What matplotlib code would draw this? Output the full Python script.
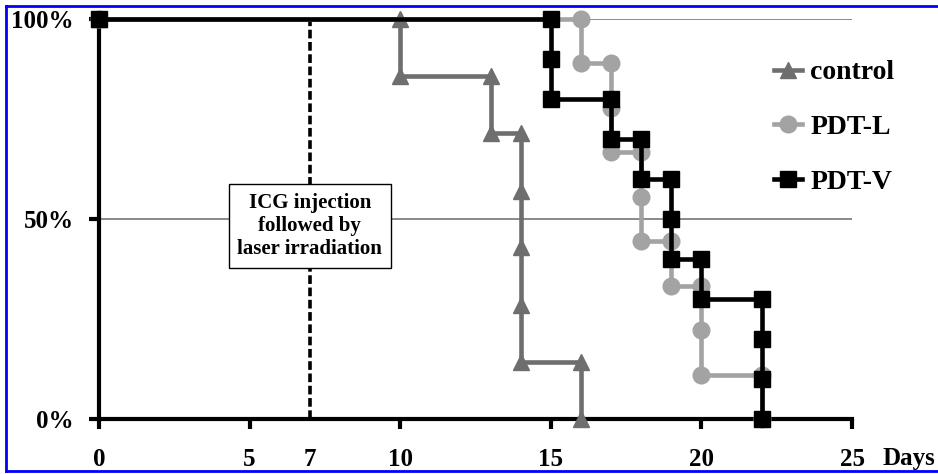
# Kaplan-Meier style survival curves: control vs PDT-L vs PDT-V
import matplotlib.pyplot as plt
from matplotlib.lines import Line2D

# step points (day, survival %)
control_days = [0, 10, 10, 13, 13, 14, 14, 14, 14, 14, 16, 16]
control_surv = [100, 100, 85.7, 85.7, 71.4, 71.4, 57.1, 42.9, 28.6, 14.3, 14.3, 0]

pdtl_days = [0, 16, 16, 17, 17, 17, 18, 18, 18, 19, 19, 20, 20, 20, 22, 22]
pdtl_surv = [100, 100, 88.9, 88.9, 77.8, 66.7, 66.7, 55.6, 44.4, 44.4, 33.3,
             33.3, 22.2, 11.1, 11.1, 0]

pdtv_days = [0, 15, 15, 15, 17, 17, 18, 18, 19, 19, 19, 20, 20, 22, 22, 22, 22]
pdtv_surv = [100, 100, 90, 80, 80, 70, 70, 60, 60, 50, 40, 40, 30, 30, 20, 10, 0]

x_ticks = [0, 5, 7, 10, 15, 20, 25]
y_ticks = [0, 50, 100]
y_labels = ["0%", "50%", "100%"]
injection_day = 7

plt.rcParams['font.family'] = ['Liberation Serif', 'DejaVu Serif']
plt.rcParams['font.weight'] = 'bold'

fig = plt.figure(figsize=(9.38, 4.74), dpi=100)
ax = fig.add_axes([99/938, 1 - 419/474, (852 - 99)/938, 400/474])
ax.set_xlim(0, 25)
ax.set_ylim(0, 100)

# thin reference lines
for yv in [50, 100]:
    ax.axhline(yv, color='#808080', lw=1.3, zorder=1)

# laser irradiation day
ax.plot([injection_day, injection_day], [0, 100], color='black', lw=2.6,
        linestyle=(0, (2.4, 1.0)), zorder=2)

ax.plot(control_days, control_surv, color='#6e6e6e', lw=3.3, marker='^',
        markersize=12, label='control', clip_on=False, zorder=3)
ax.plot(pdtl_days, pdtl_surv, color='#a3a3a3', lw=3.3, marker='o',
        markersize=12, label='PDT-L', clip_on=False, zorder=4)
ax.plot(pdtv_days, pdtv_surv, color='black', lw=3.3, marker='s',
        markersize=12, label='PDT-V', clip_on=False, zorder=5)

ax.text(injection_day, 48.3, "ICG injection\nfollowed by\nlaser irradiation",
        ha='center', va='center', fontsize=15, fontweight='bold',
        linespacing=1.2, zorder=6,
        bbox=dict(boxstyle='square,pad=0.42', facecolor='white',
                  edgecolor='black', lw=1.0))

for side in ['top', 'right']:
    ax.spines[side].set_visible(False)
for side in ['left', 'bottom']:
    ax.spines[side].set_linewidth(3)
    ax.spines[side].set_zorder(2.5)

ax.set_xticks(x_ticks)
ax.set_xticklabels([str(t) for t in x_ticks])
ax.set_yticks(y_ticks)
ax.set_yticklabels(y_labels)
ax.tick_params(axis='x', length=7, width=3, pad=14, labelsize=18)
ax.tick_params(axis='y', length=7, width=3, pad=11, labelsize=18)
ax.xaxis.get_major_ticks()[2].tick1line.set_visible(False)

fig.text(882/938, 1 - 459/474, "Days", ha='left', va='center',
         fontsize=18, fontweight='bold')

ax.legend(loc='upper left', bbox_to_anchor=(774/938, 1 - 60/474),
          bbox_transform=fig.transFigure, frameon=False, fontsize=20,
          handlelength=1.0, handletextpad=0.3, labelspacing=1.05,
          borderpad=0, borderaxespad=0)

# blue frame around the picture
for xs, ys in [([6/938, 1], [1 - 6/474, 1 - 6/474]),
               ([6/938, 1], [3/474, 3/474]),
               ([6/938, 6/938], [3/474, 1 - 6/474])]:
    fig.add_artist(Line2D(xs, ys, color='#0000ff', lw=2,
                          transform=fig.transFigure))

plt.savefig("out.png", dpi=100)
